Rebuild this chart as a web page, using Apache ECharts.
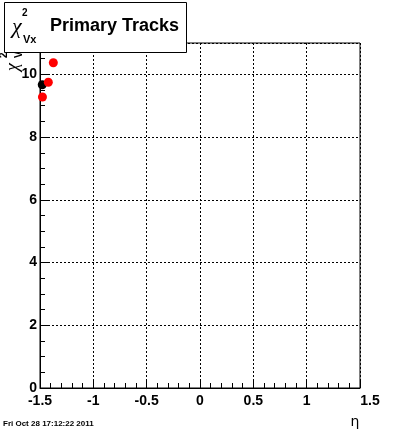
<!DOCTYPE html>
<html>
<head>
<meta charset="utf-8">
<script src="https://cdn.jsdelivr.net/npm/echarts@6/dist/echarts.min.js"></script>
<style>
html,body{margin:0;padding:0;background:#fff;}
#c{width:400px;height:433px;}
</style>
</head>
<body>
<div id="c"></div>
<script>
// Data
var blackEta = [-1.479];
var blackChi2 = [9.67];
var redEta = [-1.477, -1.422, -1.375];
var redChi2 = [9.28, 9.75, 10.37];
var xTickLabels = ['-1.5', '-1', '-0.5', '0', '0.5', '1', '1.5'];
var yTickLabels = ['0', '2', '4', '6', '8', '10'];
var titleText = 'Primary Tracks';
var dateText = 'Fri Oct 28 17:12:22 2011';

function pairs(xs, ys) { return xs.map(function (x, i) { return [x, ys[i]]; }); }

var chart = echarts.init(document.getElementById('c'), null, { renderer: 'canvas' });
var F = 'Liberation Sans, Arial, Helvetica, sans-serif';
var xLabelMap = {};
[-1.5, -1, -0.5, 0, 0.5, 1, 1.5].forEach(function (v, i) { xLabelMap[v.toFixed(1)] = xTickLabels[i]; });
var yLabelMap = {};
[0, 2, 4, 6, 8, 10].forEach(function (v, i) { yLabelMap[v] = yTickLabels[i]; });

var option = {
  backgroundColor: '#fff',
  animation: false,
  grid: { left: 40, right: 40, top: 43, bottom: 45, show: true, borderColor: '#000', borderWidth: 1, backgroundColor: 'transparent' },
  xAxis: [{
    type: 'value', min: -1.5, max: 1.5, interval: 0.5, position: 'bottom',
    axisLine: { show: true, onZero: false, lineStyle: { color: '#000', width: 1 } },
    axisTick: { show: true, inside: true, length: 9, lineStyle: { color: '#000' } },
    minorTick: { show: true, splitNumber: 5, length: 5, lineStyle: { color: '#000' } },
    splitLine: { show: true, lineStyle: { color: '#000', type: [2, 2], width: 1 } },
    axisLabel: {
      color: '#000', fontFamily: F, fontWeight: 'bold', fontSize: 14, margin: 6,
      formatter: function (v) {
        var s = xLabelMap[Number(v).toFixed(1)];
        if (s === '1.5') return '{last|' + s + '}';
        return s === undefined ? '' : s;
      },
      rich: { last: { fontFamily: F, fontWeight: 'bold', fontSize: 14, color: '#000', padding: [0, 0, 0, 20] } }
    }
  }],
  yAxis: [{
    type: 'value', min: 0, max: 11, interval: 2, position: 'left',
    axisLine: { show: true, onZero: false, lineStyle: { color: '#000', width: 1 } },
    axisTick: { show: true, inside: true, length: 9, lineStyle: { color: '#000' } },
    splitLine: { show: true, lineStyle: { color: '#000', type: [2, 2], width: 1 } },
    axisLabel: {
      color: '#000', fontFamily: F, fontWeight: 'bold', fontSize: 14, margin: 3,
      showMaxLabel: false,
      formatter: function (v) { var s = yLabelMap[v]; return s === undefined ? '' : s; }
    }
  }, {
    type: 'value', min: 0, max: 11, interval: 0.5, position: 'left', offset: 0,
    axisLine: { show: false, onZero: false },
    axisTick: { show: true, inside: true, length: 5, lineStyle: { color: '#000' } },
    splitLine: { show: false },
    axisLabel: { show: false }
  }],
  series: [{
    type: 'scatter', name: 'black', xAxisIndex: 0, yAxisIndex: 0, clip: false,
    symbol: 'circle', symbolSize: 9, itemStyle: { color: '#000', opacity: 1 }, z: 3,
    data: pairs(blackEta, blackChi2)
  }, {
    type: 'scatter', name: 'red', xAxisIndex: 0, yAxisIndex: 0, clip: false,
    symbol: 'circle', symbolSize: 9, itemStyle: { color: '#ff0000', opacity: 1 }, z: 4,
    data: pairs(redEta, redChi2)
  }],
  graphic: [
    // y-axis title (rotated), partly hidden by the title box
    {
      type: 'group', x: 13, y: 71, rotation: Math.PI / 2, z: 5,
      children: [
        { type: 'text', x: 0, y: 0, style: { text: 'χ', font: 'italic 18px "Liberation Serif", serif', fill: '#000', textAlign: 'left', textVerticalAlign: 'middle' } },
        { type: 'text', x: 13, y: -9, style: { text: '2', font: 'bold 10px ' + F, fill: '#000', textAlign: 'left', textVerticalAlign: 'middle' } },
        { type: 'text', x: 13, y: 6, style: { text: 'Vx', font: 'bold 10px ' + F, fill: '#000', textAlign: 'left', textVerticalAlign: 'middle' } }
      ]
    },
    // title box
    { type: 'rect', z: 50, shape: { x: 4.5, y: 2.5, width: 182, height: 50 }, style: { fill: '#fff', stroke: '#000', lineWidth: 1 } },
    { type: 'text', z: 51, x: 12, y: 27, style: { text: 'χ', font: 'italic 22px "Liberation Serif", serif', fill: '#000', textAlign: 'left', textVerticalAlign: 'middle' } },
    { type: 'text', z: 51, x: 22, y: 13, style: { text: '2', font: 'bold 10px ' + F, fill: '#000', textAlign: 'left', textVerticalAlign: 'middle' } },
    { type: 'text', z: 51, x: 23, y: 40, style: { text: 'Vx', font: 'bold 11px ' + F, fill: '#000', textAlign: 'left', textVerticalAlign: 'middle' } },
    { type: 'text', z: 51, x: 50, y: 26, style: { text: titleText, font: 'bold 18px ' + F, fill: '#000', textAlign: 'left', textVerticalAlign: 'middle' } },
    // x-axis title
    { type: 'text', z: 5, x: 355, y: 422, style: { text: 'η', font: '14px "DejaVu Sans", sans-serif', fill: '#000', textAlign: 'center', textVerticalAlign: 'middle' } },
    // date stamp
    { type: 'text', z: 5, x: 3, y: 424, style: { text: dateText, font: 'bold 8px ' + F, fill: '#000', textAlign: 'left', textVerticalAlign: 'middle' } }
  ]
};
chart.setOption(option);
</script>
</body>
</html>
